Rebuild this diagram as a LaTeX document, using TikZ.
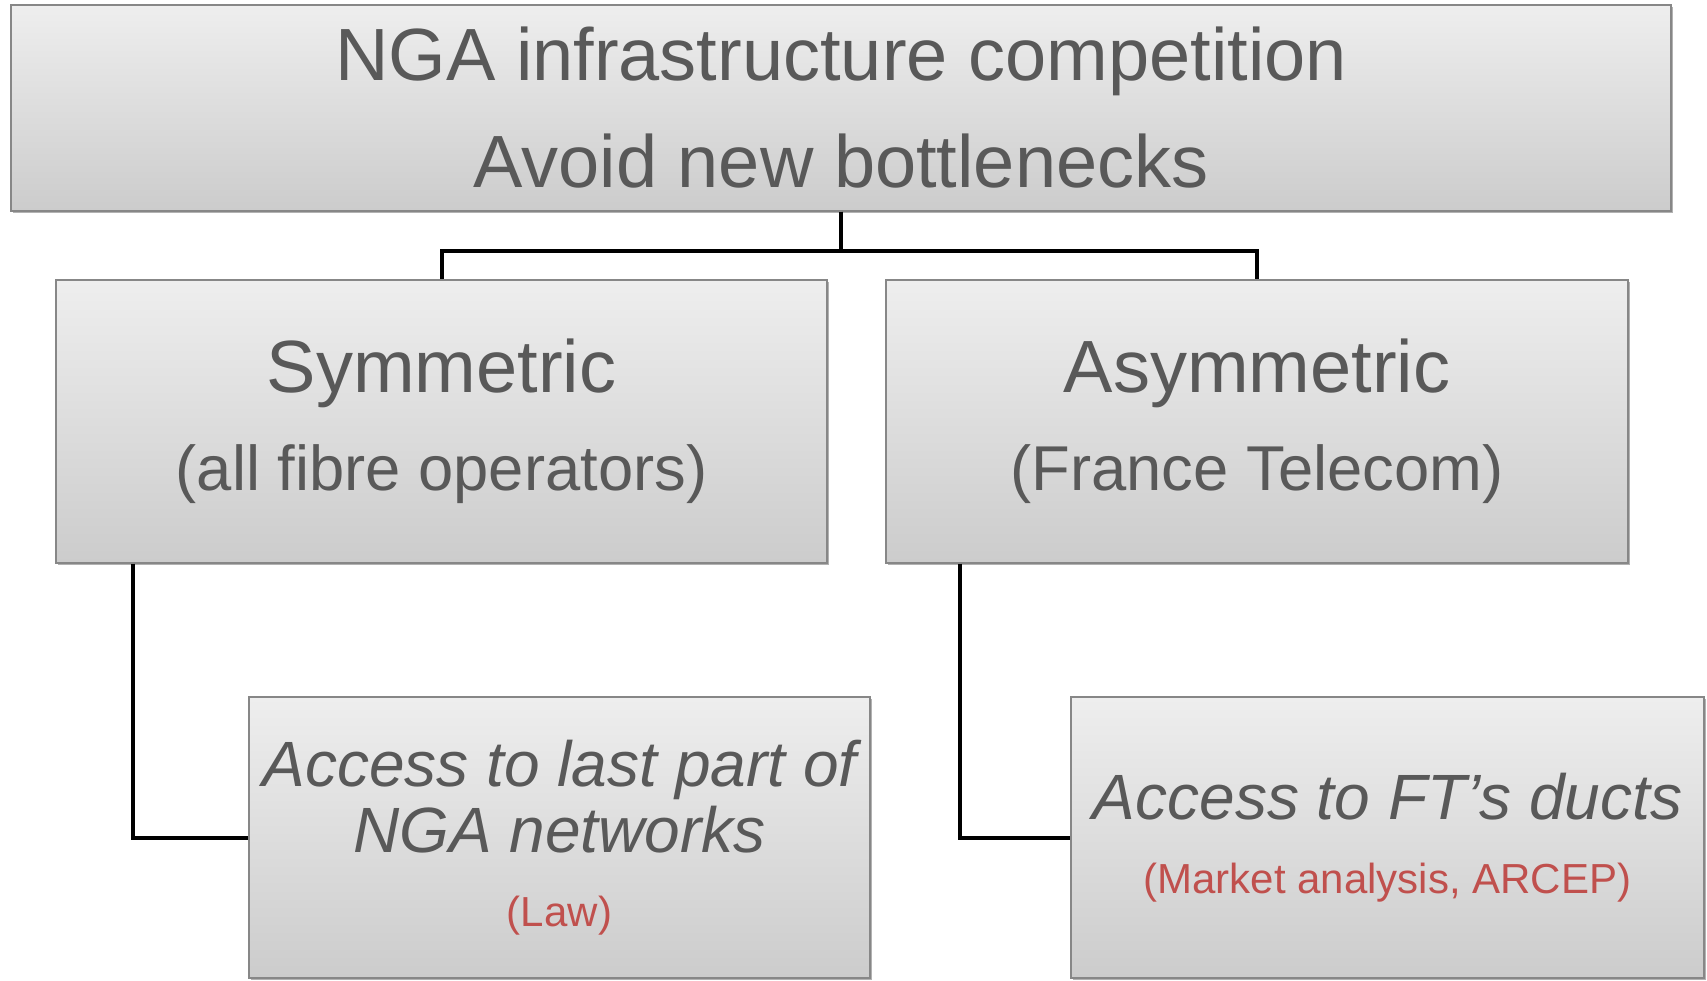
\documentclass[tikz,border=0pt]{standalone}
\usepackage{fontspec}
\setmainfont{Liberation Sans}
\usetikzlibrary{shadows}

\definecolor{txtgray}{RGB}{89,89,89}
\definecolor{lawred}{RGB}{192,80,77}
\definecolor{boxtop}{RGB}{238,238,238}
\definecolor{boxbot}{RGB}{204,204,204}
\definecolor{boxline}{RGB}{135,135,135}

\tikzset{every picture/.style={line width=0.75pt}}
\tikzset{
  greybox/.style={draw=boxline, line width=1pt, top color=boxtop, bottom color=boxbot,
    text=txtgray, align=center, inner sep=0pt,
    drop shadow={shadow xshift=1.5pt, shadow yshift=-1.5pt, opacity=0.3, fill=black}},
  link/.style={line width=3pt, black}
}

\begin{document}
\begin{tikzpicture}[x=0.75pt,y=0.75pt,yscale=-1,xscale=1]
\useasboundingbox (0,0) rectangle (1707,981);

%Shape: Rectangle [top]
\node [greybox, minimum width=1245pt, minimum height=154.5pt, font=\fontsize{55.5}{80.25}\selectfont] (nga) at (841,108) {NGA infrastructure competition\\Avoid new bottlenecks};
%Shape: Rectangle [symmetric]
\node [greybox, minimum width=578.25pt, minimum height=212.25pt, font=\fontsize{55.5}{73.5}\selectfont] (sym) at (441.5,421.5) {Symmetric\\{\fontsize{47.5}{73.5}\selectfont (all fibre operators)}};
%Shape: Rectangle [asymmetric]
\node [greybox, minimum width=556.5pt, minimum height=212.25pt, font=\fontsize{55.5}{73.5}\selectfont] (asym) at (1257,421.5) {Asymmetric\\{\fontsize{47.5}{73.5}\selectfont (France Telecom)}};
%Shape: Rectangle [last part]
\node [greybox, minimum width=465.75pt, minimum height=210.75pt, font=\itshape\fontsize{48}{49.5}\selectfont] (lastpart) at (559.5,837.5) {Access to last part of\\NGA networks\\[6pt]{\upshape\color{lawred}\fontsize{31.5}{55.5}\selectfont (Law)}};
%Shape: Rectangle [ducts]
\node [greybox, minimum width=474.75pt, minimum height=210.75pt, font=\itshape\fontsize{48}{49.5}\selectfont] (ducts) at (1387.5,837.5) {Access to FT’s ducts\\[6pt]{\upshape\color{lawred}\fontsize{31.5}{55.5}\selectfont (Market analysis, ARCEP)}};

%Straight Lines
\draw [link] (nga.south) -- ++(0,39) -| (sym.north);
\draw [link] (nga.south) -- ++(0,39) -| (asym.north);
%Straight Lines
\draw [link] ([xshift=58.5pt]sym.south west) |- (lastpart.west);
\draw [link] ([xshift=56.25pt]asym.south west) |- (ducts.west);

\end{tikzpicture}
\end{document}
